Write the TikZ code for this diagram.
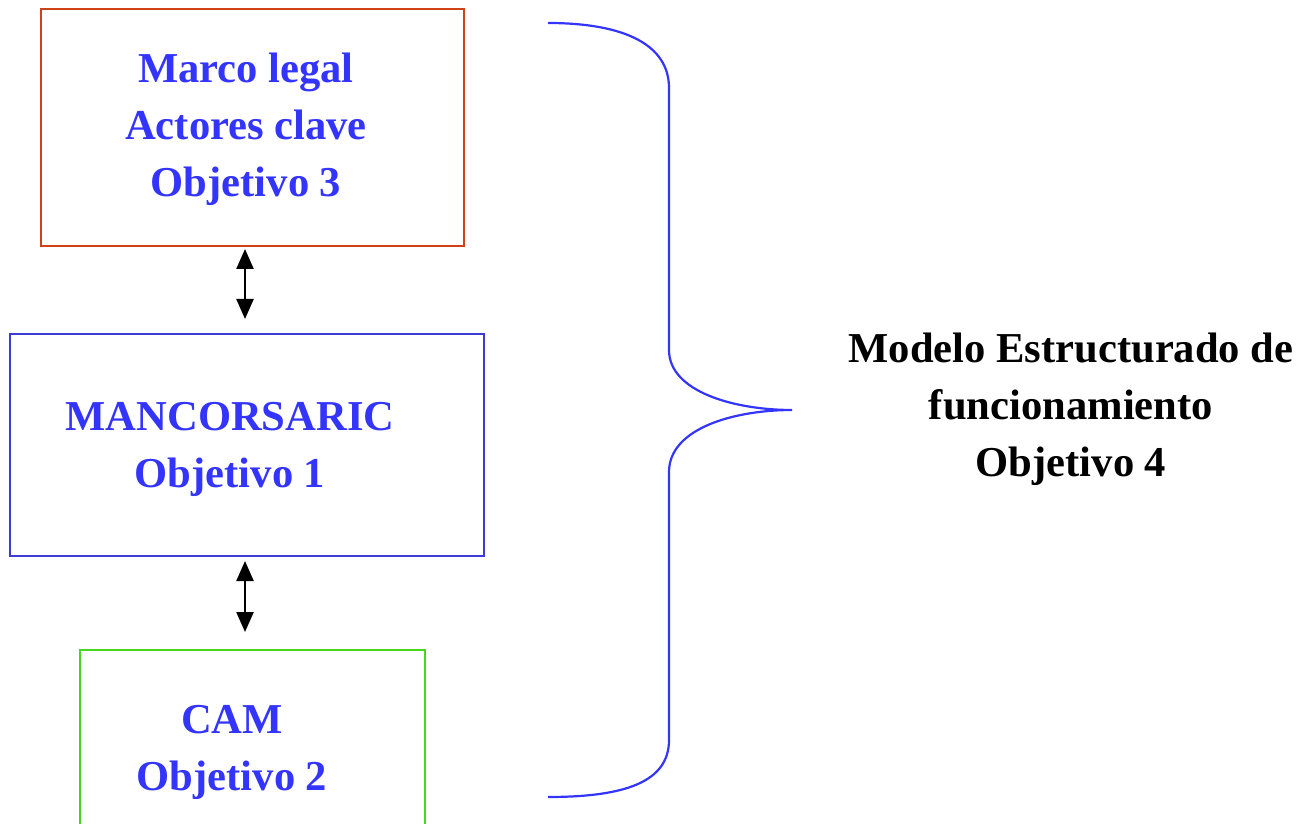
\documentclass[tikz,border=0pt]{standalone}
\usepackage{fontspec}
\setmainfont{Liberation Serif}
\usetikzlibrary{arrows.meta}

\definecolor{boxred}{RGB}{206,66,22}
\definecolor{boxblue}{RGB}{60,60,210}
\definecolor{boxgreen}{RGB}{70,215,30}
\definecolor{txtblue}{RGB}{52,52,255}

\tikzset{
  box/.style={draw=#1, line width=1pt, inner sep=0pt},
  lbl/.style={align=center, text=txtblue, font=\fontsize{21.3}{28.5}\selectfont\bfseries},
  twoway/.style={{Triangle[length=10pt,width=8.5pt]}-{Triangle[length=10pt,width=8.5pt]}, line width=1.2pt}
}

\begin{document}
\begin{tikzpicture}[x=0.5pt,y=-0.5pt]
      \clip (0,0) rectangle (1314,824);

      \node[box=boxred,   minimum width=211.5pt, minimum height=118.5pt] (Marco) at (252.5,127.5) {};
      \node[box=boxblue,  minimum width=237pt,   minimum height=111pt]   (Manc)  at (247,445)     {};
      \node[box=boxgreen, minimum width=172.5pt, minimum height=125pt]   (Cam)   at (252.5,775)   {};

      \node[lbl] (MarcoTxt) at (246,129) {Marco legal\\Actores clave\\Objetivo 3};
      \node[lbl] (MancTxt)  at (230,449) {MANCORSARIC\\Objetivo 1};
      \node[lbl] (CamTxt)   at (232,752) {CAM\\Objetivo 2};
      \node[lbl, text=black] (Modelo) at (1071,409) {Modelo Estructurado de\\funcionamiento\\Objetivo 4};

      \draw[twoway, shorten <=1pt, shorten >=7pt]
        ([xshift=-3.75pt]Marco.south) -- ([xshift=-3.75pt]Marco.south |- Manc.north);
      \draw[twoway, shorten <=2pt, shorten >=8.5pt]
        ([xshift=-1pt]Manc.south) -- ([xshift=-1pt]Manc.south |- Cam.north);

      % brace round the three boxes
      \draw[txtblue, line width=1.1pt]
        (548,23) .. controls (625,23) and (669,45) .. (669,88) -- (669,350)
        .. controls (669,392) and (735,410) .. (792,410)
        .. controls (735,410) and (669,428) .. (669,472) -- (669,740)
        .. controls (669,782) and (625,797) .. (548,797);
\end{tikzpicture}
\end{document}
